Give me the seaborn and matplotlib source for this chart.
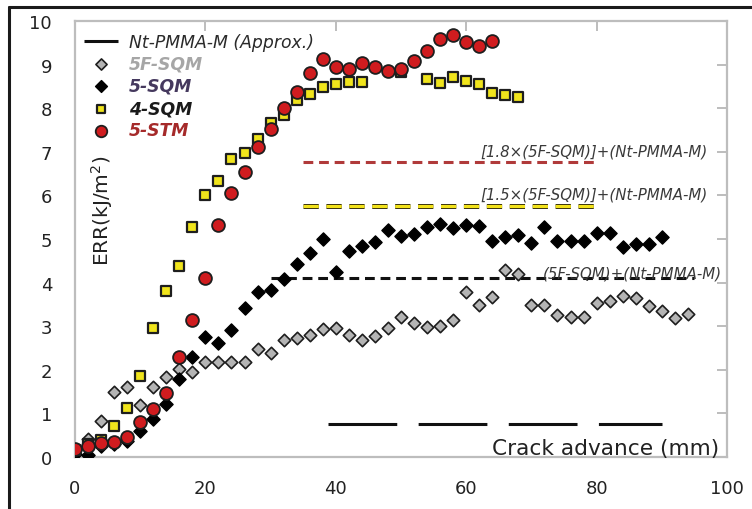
import numpy as np
import pandas as pd
import matplotlib
matplotlib.use("Agg")
import matplotlib.pyplot as plt
from matplotlib.lines import Line2D
import matplotlib.patheffects as pe
import seaborn as sns

# ---------------- data ----------------
x_5f = list(range(0, 96, 2))
y_5f = [0.15, 0.41, 0.83, 1.48, 1.61, 1.20, 1.61, 1.84, 2.02, 1.96, 2.17, 2.17,
        2.17, 2.17, 2.48, 2.38, 2.69, 2.74, 2.80, 2.94, 2.97, 2.80, 2.68, 2.78,
        2.97, 3.21, 3.08, 2.99, 3.01, 3.15, 3.78, 3.49, 3.68, 4.30, 4.20, 3.49,
        3.49, 3.26, 3.22, 3.22, 3.53, 3.58, 3.70, 3.64, 3.46, 3.36, 3.19, 3.28]

x_5s = list(range(0, 92, 2))
y_5s = [0.07, 0.05, 0.26, 0.30, 0.37, 0.60, 0.87, 1.22, 1.79, 2.29, 2.76, 2.61,
        2.92, 3.41, 3.79, 3.84, 4.08, 4.43, 4.68, 5.00, 4.24, 4.72, 4.83, 4.94,
        5.21, 5.08, 5.11, 5.27, 5.34, 5.25, 5.31, 5.29, 4.96, 5.04, 5.09, 4.91,
        5.27, 4.96, 4.96, 4.96, 5.14, 5.14, 4.81, 4.88, 4.88, 5.04]

x_4s = list(range(0, 46, 2)) + [50] + list(range(54, 70, 2))
y_4s = [0.15, 0.30, 0.38, 0.70, 1.12, 1.85, 2.97, 3.80, 4.37, 5.27, 6.01, 6.34,
        6.83, 6.97, 7.29, 7.65, 7.84, 8.19, 8.33, 8.48, 8.55, 8.59, 8.61,
        8.83,
        8.68, 8.58, 8.71, 8.63, 8.56, 8.36, 8.30, 8.25]

x_st = list(range(0, 66, 2))
y_st = [0.18, 0.26, 0.31, 0.35, 0.47, 0.81, 1.10, 1.46, 2.29, 3.14, 4.10, 5.31,
        6.05, 6.53, 7.10, 7.52, 8.00, 8.38, 8.81, 9.13, 8.95, 8.91, 9.03, 8.94,
        8.86, 8.91, 9.09, 9.32, 9.59, 9.68, 9.51, 9.43, 9.53]

# reference lines
nt_x = [38.8, 90.0]
nt_y = [0.76, 0.76]
ref18_x = [35.0, 80.0]
ref18_y = [6.77, 6.77]
ref15_x = [35.0, 80.0]
ref15_y = [5.76, 5.76]
ref10_x = [30.0, 95.0]
ref10_y = [4.10, 4.10]

labels_ref = ["[1.8×(5F-SQM)]+(Nt-PMMA-M)", "[1.5×(5F-SQM)]+(Nt-PMMA-M)",
              "(5F-SQM)+(Nt-PMMA-M)"]
x_ticks = [0, 20, 40, 60, 80, 100]
y_ticks = list(range(0, 11))

# ---------------- style ----------------
sns.set_style("white")
plt.rcParams["font.family"] = ["DejaVu Sans"]

fig = plt.figure(figsize=(7.52, 5.10), dpi=100)
ax = fig.add_axes([75/752, 1-458/510, (727-75)/752, (458-22)/510])

gray = "#bdbdbd"
edge = "#1e1e1e"

sns.scatterplot(x=x_5f, y=y_5f, marker="D", s=40, color="#b4b4b4",
                edgecolor=edge, linewidth=1.2, label="5F-SQM", ax=ax, zorder=3)
sns.scatterplot(x=x_5s, y=y_5s, marker="D", s=45, color="#000000",
                edgecolor="#000000", linewidth=1.0, label="5-SQM", ax=ax, zorder=4)
sns.scatterplot(x=x_4s, y=y_4s, marker="s", s=48, color="#f0e41c",
                edgecolor=edge, linewidth=1.6, label="4-SQM", ax=ax, zorder=5)
sns.scatterplot(x=x_st, y=y_st, marker="o", s=85, color="#d01c1f",
                edgecolor=edge, linewidth=1.3, label="5-STM", ax=ax, zorder=6)

# Nt-PMMA-M approx line (long dashes)
nt_line, = ax.plot(nt_x, nt_y, color="#111111", lw=2.2, label="Nt-PMMA-M (Approx.)",
                   zorder=2)
nt_line.set_dashes((22.5, 7))

# reference dashed lines
l1, = ax.plot(ref18_x, ref18_y, color="#b03a3a", lw=2.2, zorder=2)
l1.set_dashes((3.2, 1.9))
l2, = ax.plot(ref15_x, ref15_y, color="#f2e21a", lw=2.2, zorder=2,
              path_effects=[pe.Stroke(linewidth=3.6, foreground="#3b3510"),
                            pe.Normal()])
l2.set_dashes((5.0, 2.5))
l3, = ax.plot(ref10_x, ref10_y, color="#111111", lw=2.2, zorder=2)
l3.set_dashes((3.2, 1.9))

ann_kw = dict(ha="right", va="center", fontsize=10.8, style="italic", color="#3a3a3a")
ax.text(97.1, 7.02, labels_ref[0], **ann_kw)
ax.text(97.1, 6.03, labels_ref[1], **ann_kw)
ax.text(99.3, 4.22, labels_ref[2], **ann_kw)

ax.text(0.988, 0.008, "Crack advance (mm)", transform=ax.transAxes, ha="right",
        va="baseline", fontsize=15.6, color="#222222")
ax.text(0.041, 0.566, "ERR(kJ/m$^2$)", transform=ax.transAxes, ha="center",
        va="center", rotation=90, fontsize=14.5, color="#222222")

# axes
ax.set_xlim(0, 100)
ax.set_ylim(0, 10)
ax.set_xticks(x_ticks)
ax.set_yticks(y_ticks)
ax.set_xlabel("")
ax.set_ylabel("")
for sp in ax.spines.values():
    sp.set_color(gray)
    sp.set_linewidth(1.6)
ax.tick_params(axis="both", direction="out", length=6.5, width=1.4, color=gray,
               labelsize=13, labelcolor="#222222")
ax.tick_params(axis="y", pad=10)
ax.tick_params(axis="x", pad=9)

sec_y = ax.secondary_yaxis("right")
sec_y.set_yticks(y_ticks)
sec_y.tick_params(direction="in", length=7, width=1.4, color=gray, labelright=False)
sec_y.spines["right"].set_visible(False)
sec_x = ax.secondary_xaxis("top")
sec_x.set_xticks(x_ticks)
sec_x.tick_params(direction="in", length=7, width=1.4, color=gray, labeltop=False)
sec_x.spines["top"].set_visible(False)

# legend
handles, labels = ax.get_legend_handles_labels()
order = ["Nt-PMMA-M (Approx.)", "5F-SQM", "5-SQM", "4-SQM", "5-STM"]
hmap = dict(zip(labels, handles))
leg = ax.legend([hmap[k] for k in order], order, loc="upper left",
                bbox_to_anchor=(0.0, 0.993), frameon=False, fontsize=12.4,
                handlelength=2.0, handletextpad=0.65, labelspacing=0.24,
                borderaxespad=0.3, borderpad=0.2, markerscale=0.9)
txt_colors = ["#2a2a2a", "#a6a6a6", "#45395e", "#1a1a1a", "#a52a2a"]
for t, c in zip(leg.get_texts(), txt_colors):
    t.set_color(c)
    t.set_style("italic")
for t in leg.get_texts()[1:]:
    t.set_fontweight("semibold")

# figure border (top and left)
fig.add_artist(Line2D([9/752, 1.0], [1-8/510, 1-8/510], transform=fig.transFigure,
                      color="#1a1a1a", lw=2.2))
fig.add_artist(Line2D([9/752, 9/752], [0.0, 1-8/510], transform=fig.transFigure,
                      color="#1a1a1a", lw=2.2))

fig.savefig("out.png", dpi=100)
